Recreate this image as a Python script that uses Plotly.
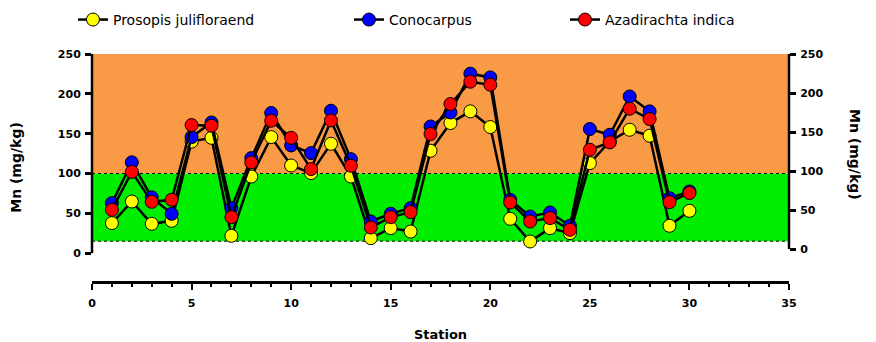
import plotly.graph_objects as go

stations = list(range(1, 31))
prosopis = [37.7, 64.8, 36.8, 40.6, 140, 144.8, 21.7, 96.2, 145.7, 110,
            100.5, 137.3, 96.2, 18.8, 31.4, 27.1, 128.5, 163.3, 178, 158.3,
            43.1, 14.6, 31.4, 25.1, 113, 140.2, 154.9, 147.4, 34.3, 53.1]
conocarpus = [62.8, 114, 70, 49.4, 145.7, 164, 56.5, 119.3, 175.9, 135.2,
              125.6, 178.8, 118, 39.7, 49.4, 56.5, 159, 176.6, 225.3, 220.6,
              67, 46, 51, 34.3, 155.8, 148.6, 196.7, 178, 69, 77.4]
azadirachta = [54.4, 102, 64.4, 67, 160.8, 160, 45.2, 113.8, 166.2, 144.8,
               105.5, 166.6, 109.7, 32.2, 45.2, 51.5, 149.5, 187.2, 215.2, 211.4,
               63.6, 39.7, 44, 29.3, 129.8, 139, 181.3, 168.3, 64, 75.4]
series_names = ["Prosopis julifloraend", "Conocarpus", "Azadirachta indica"]
series_colors = ["#FFFF00", "#0000FF", "#FF0000"]
series_values = [prosopis, conocarpus, azadirachta]

x_ticks = [0, 5, 10, 15, 20, 25, 30, 35]
y_ticks = [0, 50, 100, 150, 200, 250]
band_low, band_mid, band_high = 15, 100, 250

FONT = "DejaVu Sans"

fig = go.Figure()

legend_names = ["legend", "legend2", "legend3"]
for name, color, vals, lg in zip(series_names, series_colors, series_values, legend_names):
    fig.add_trace(go.Scatter(
        x=stations, y=vals, name=name, mode="lines+markers",
        line=dict(color="black", width=2.5),
        marker=dict(color=color, size=13, line=dict(color="black", width=1)),
        legend=lg,
    ))

# invisible trace to activate right axis
fig.add_trace(go.Scatter(x=[None], y=[None], yaxis="y2", showlegend=False, hoverinfo="skip"))

shapes = [
    dict(type="rect", xref="x", yref="y", x0=0, x1=35, y0=band_mid, y1=band_high,
         fillcolor="rgb(249,155,70)", line=dict(width=0), layer="below"),
    dict(type="rect", xref="x", yref="y", x0=0, x1=35, y0=band_low, y1=band_mid,
         fillcolor="rgb(0,238,0)", line=dict(width=0), layer="below"),
    dict(type="line", xref="x", yref="y", x0=0, x1=35, y0=band_mid, y1=band_mid,
         line=dict(color="black", width=1, dash="dot"), layer="below"),
    dict(type="line", xref="x", yref="y", x0=0, x1=35, y0=band_low, y1=band_low,
         line=dict(color="black", width=1, dash="dot"), layer="below"),
    dict(type="line", xref="paper", yref="y", x0=0, x1=0, y0=0, y1=250,
         line=dict(color="black", width=2.5)),
    dict(type="line", xref="paper", yref="y2", x0=1, x1=1, y0=0, y1=250,
         line=dict(color="black", width=2.5)),
]

tickfont = dict(family=FONT, size=11, color="black", weight="bold")

legend_common = dict(orientation="h", yanchor="middle", xanchor="left", y=1.15,
                     font=dict(family=FONT, size=14, color="black"),
                     itemwidth=30, bgcolor="rgba(0,0,0,0)")

fig.update_layout(
    width=868, height=334,
    margin=dict(l=84, r=87, t=46, b=61, autoexpand=False),
    plot_bgcolor="white", paper_bgcolor="white",
    shapes=shapes,
    legend=dict(x=-0.0273, **legend_common),
    legend2=dict(x=0.3687, **legend_common),
    legend3=dict(x=0.6786, **legend_common),
    xaxis=dict(range=[0, 35], tickvals=x_ticks, showgrid=False, zeroline=False,
               showline=True, linecolor="black", linewidth=2.5,
               ticks="outside", ticklen=6, tickwidth=2, tickcolor="black",
               ticklabelstandoff=4,
               minor=dict(dtick=1, ticks="outside", ticklen=3, tickwidth=2, tickcolor="black"),
               tickfont=tickfont,
               title=dict(text="Station", font=dict(family=FONT, size=13, color="black", weight="bold"),
                          standoff=26)),
    yaxis=dict(range=[-35, 250], tickvals=y_ticks, showgrid=False, zeroline=False,
               showline=False, ticks="outside", ticklen=6, tickwidth=2.5, tickcolor="black",
               ticklabelstandoff=2,
               tickfont=tickfont,
               title=dict(text="Mn (mg/kg)", font=dict(family=FONT, size=14, color="black", weight="bold"),
                          standoff=33)),
    yaxis2=dict(range=[-41, 250], tickvals=y_ticks, overlaying="y", side="right",
                showgrid=False, zeroline=False, showline=False,
                ticks="outside", ticklen=6, tickwidth=2.5, tickcolor="black",
                ticklabelstandoff=2,
                tickfont=tickfont),
    annotations=[dict(text="Mn (mg/kg)", xref="paper", yref="paper", x=1.109,
                      y=0.555, textangle=90, showarrow=False,
                      font=dict(family=FONT, size=14, color="black", weight="bold"))],
)

fig.write_html("out.html")
